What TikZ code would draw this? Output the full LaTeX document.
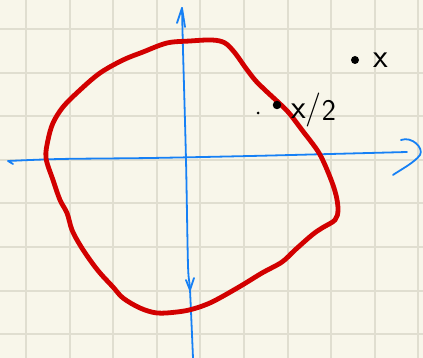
\documentclass[tikz,border=0pt]{standalone}
\usepackage{xcolor}
\definecolor{paper}{RGB}{248,246,234}
\definecolor{gridc}{RGB}{224,222,208}
\definecolor{penblue}{RGB}{22,128,245}
\definecolor{penred}{RGB}{210,0,0}
\begin{document}
\begin{tikzpicture}[x=1pt,y=-1pt,
  gridline/.style={gridc,line width=2pt},
  axis/.style={penblue,line width=1.8pt,line cap=round,line join=round},
  curve/.style={penred,line width=4.8pt,line cap=round,line join=round},
  lbl/.style={font=\sffamily\fontsize{34}{34}\selectfont,inner sep=0pt,anchor=center},
  bigdot/.style={circle,fill=black,inner sep=0pt,minimum size=8pt}]
\fill[paper] (0,0) rectangle (423,358);
\useasboundingbox (0,0) rectangle (423,358);
% grid
\foreach \i in {0,...,9} \draw[gridline] ({26+43.6*\i},0) -- ({26+43.6*\i},358);
\foreach \j in {0,...,7} \draw[gridline] (0,{29+43.6*\j}) -- (423,{29+43.6*\j});
% axes
\coordinate (hl) at (8,161);
\coordinate (hr) at (407,152);
\draw[axis] (13,164) -- (hl) plot[smooth] coordinates {(8,161) (60,159) (150,158) (250,156) (330,154) (407,152)};
\draw[axis] (401,140) .. controls (412,136) and (424,148) .. (420,155) .. controls (414,163) and (400,170) .. (393,175);
\coordinate (vt) at (182,8);
\coordinate (vb) at (193,358);
\draw[axis] plot[smooth] coordinates {(182,8) (183,50) (186,160) (188,265) (190,290) (193,358)};
\draw[axis] (177,23) -- (182,8) -- (185,27);
\draw[axis] (186,280) -- (190,290) -- (194,278);
% red curve
\draw[curve] plot[smooth cycle,tension=0.55] coordinates {
(190,41) (212,40) (225,43) (235,53) (245,67) (255,80) (265,90) (279,103) (289,113)
(302,130) (319,153) (330,177) (336,195) (338,210) (335,220) (322,228) (312,235)
(295,250) (282,262) (262,273) (239,287) (212,302) (193,309) (177,312) (157,313)
(140,308) (123,298) (113,287) (100,273) (90,260) (80,245) (72,230) (67,213)
(60,200) (53,180) (46,158) (48,140) (53,123) (63,107) (80,90) (100,73) (123,60)
(143,52) (167,43)};
% points
\node[bigdot] (px) at (355,60) {};
\node[lbl] (lx) at (381,60) {x};
\node[bigdot,minimum size=8.5pt] (ph) at (277,105) {};
\node[circle,fill=black,inner sep=0pt,minimum size=3pt] (ps) at (258,113) {};
\node[lbl,anchor=west] (lh) at (291,110) {x/\raisebox{-2pt}{\fontsize{30}{30}\selectfont 2}};
\end{tikzpicture}
\end{document}
